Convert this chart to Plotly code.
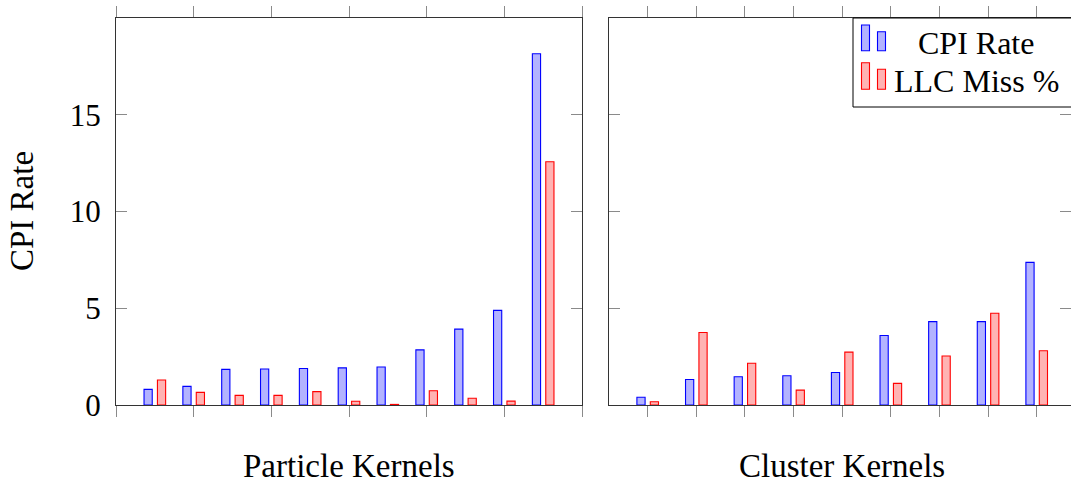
import plotly.graph_objects as go

# ---- data ----
particle_x = [1, 2, 3, 4, 5, 6, 7, 8, 9, 10, 11]
particle_cpi = [0.81, 0.96, 1.84, 1.86, 1.89, 1.92, 1.96, 2.85, 3.92, 4.89, 18.15]
particle_llc = [1.29, 0.65, 0.50, 0.50, 0.69, 0.19, 0.03, 0.74, 0.35, 0.20, 12.57]

cluster_x = [1, 2, 3, 4, 5, 6, 7, 8, 9]
cluster_cpi = [0.40, 1.32, 1.46, 1.51, 1.68, 3.59, 4.31, 4.31, 7.37]
cluster_llc = [0.17, 3.75, 2.16, 0.77, 2.73, 1.12, 2.53, 4.74, 2.80]

y_ticks = [0, 5, 10, 15]
series_names = ["CPI Rate", "LLC Miss %"]
panel_titles = ["Particle Kernels", "Cluster Kernels"]
y_title = "CPI Rate"

W, H = 1071, 486
FONT = "Liberation Serif"
BLUE_FILL, BLUE_LINE = "rgb(179,179,255)", "rgb(0,0,255)"
RED_FILL, RED_LINE = "rgb(255,179,179)", "rgb(255,0,0)"


def px(x):
    return x / W


def py(y):
    return 1 - y / H


# panel geometry (pixels)
L0, L1 = 116, 582
R0 = 609
TOP, BOT = 18, 405
left_unit = (L1 - L0) / 12.0
right_unit = 48.625
right_range = [1 - (647.7 - R0) / right_unit, 9 + (W - 1036.7) / right_unit]

# bar geometry in pixels relative to group centre
b_in, b_out = 2.6, 10.8

fig = go.Figure()


def add_bars(xs, vals, unit, fill, line, side, xa, ya):
    w = (b_out - b_in) / unit
    off = (-b_out / unit) if side < 0 else (b_in / unit)
    fig.add_trace(go.Bar(
        x=xs, y=vals, width=[w] * len(xs), offset=off,
        marker=dict(color=fill, line=dict(color=line, width=1.1)),
        xaxis=xa, yaxis=ya, showlegend=False, hoverinfo="x+y"))


add_bars(particle_x, particle_cpi, left_unit, BLUE_FILL, BLUE_LINE, -1, "x", "y")
add_bars(particle_x, particle_llc, left_unit, RED_FILL, RED_LINE, 1, "x", "y")
add_bars(cluster_x, cluster_cpi, right_unit, BLUE_FILL, BLUE_LINE, -1, "x2", "y2")
add_bars(cluster_x, cluster_llc, right_unit, RED_FILL, RED_LINE, 1, "x2", "y2")

ydom = [py(BOT), py(TOP)]
axis_common = dict(showgrid=False, zeroline=False, showline=True, automargin=False,
                   linecolor="#333", linewidth=1, mirror="ticks",
                   tickcolor="#8a8a8a", tickwidth=1, ticklen=11)

fig.update_layout(
    width=W, height=H, margin=dict(l=0, r=0, t=0, b=0, autoexpand=False),
    plot_bgcolor="white", paper_bgcolor="white",
    barmode="overlay", showlegend=False,
    font=dict(family=FONT, size=31, color="black"),
    xaxis=dict(domain=[px(L0), px(L1)], range=[0, 12], tickvals=[0, 2, 4, 6, 8, 10, 12],
               ticks="outside", showticklabels=False, anchor="y", **axis_common),
    yaxis=dict(domain=ydom, range=[0, 20], tickvals=y_ticks, ticks="inside",
               ticklabelstandoff=8, anchor="x", **axis_common),
    xaxis2=dict(domain=[px(R0), 1], range=right_range, tickvals=cluster_x,
                ticks="outside", showticklabels=False, anchor="y2", **axis_common),
    yaxis2=dict(domain=ydom, range=[0, 20], tickvals=y_ticks, ticks="inside",
                showticklabels=False, anchor="x2", **axis_common),
)

# axis titles
fig.add_annotation(text=panel_titles[0], x=px((L0 + L1) / 2), y=py(466), xref="paper", yref="paper",
                   showarrow=False, xanchor="center", yanchor="middle", font=dict(size=33))
fig.add_annotation(text=panel_titles[1], x=px((R0 + R0 + 466) / 2), y=py(466), xref="paper", yref="paper",
                   showarrow=False, xanchor="center", yanchor="middle", font=dict(size=33))
fig.add_annotation(text=y_title, x=px(22.5), y=py((TOP + BOT) / 2), xref="paper", yref="paper",
                   showarrow=False, xanchor="center", yanchor="middle", textangle=-90, font=dict(size=33))

# legend (pgfplots-style ybar legend), box runs off the right edge
lx0, ly0, ly1 = px(853), py(18), py(107)
fig.add_shape(type="rect", xref="paper", yref="paper", x0=lx0, x1=1, y0=ly1, y1=ly0,
              line=dict(width=0), fillcolor="white", layer="above")
fig.add_shape(type="path", xref="paper", yref="paper",
              path=f"M 1 {ly0} L {lx0} {ly0} L {lx0} {ly1} L 1 {ly1}",
              line=dict(color="black", width=1), layer="above")
rows = [(BLUE_FILL, BLUE_LINE, 25, 31.7, 50.7, 42.5), (RED_FILL, RED_LINE, 62.7, 69.3, 89.3, 81.3)]
for (fill, line, t1, t2, b, cy), name in zip(rows, series_names):
    fig.add_shape(type="rect", xref="paper", yref="paper", x0=px(861.5), x1=px(869.5), y0=py(b), y1=py(t1),
                  line=dict(color=line, width=1.1), fillcolor=fill, layer="above")
    fig.add_shape(type="rect", xref="paper", yref="paper", x0=px(877.5), x1=px(885.5), y0=py(b), y1=py(t2),
                  line=dict(color=line, width=1.1), fillcolor=fill, layer="above")
    fig.add_annotation(text=name, x=px(976), y=py(cy), xref="paper", yref="paper", showarrow=False,
                       xanchor="center", yanchor="middle", font=dict(size=32))

fig.write_html("out.html")
